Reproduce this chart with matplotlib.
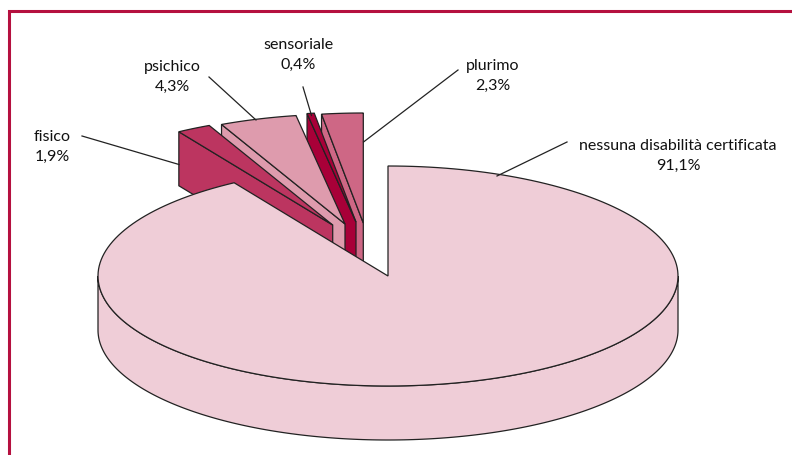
import numpy as np
import matplotlib
matplotlib.use("Agg")
import matplotlib.pyplot as plt
from matplotlib.patches import Polygon

labels = ["nessuna disabilità certificata", "fisico", "psichico", "sensoriale", "plurimo"]
values = [91.1, 1.9, 4.3, 0.4, 2.3]
value_text = ["91,1%", "1,9%", "4,3%", "0,4%", "2,3%"]
colors = ["#EFCDD7", "#BC3560", "#DE9BAD", "#A80038", "#CE6785"]

# layout, in picture pixels
cx, cy = 388, 277
rx, ry = 290, 110
depth = 54
shift = [(0, 0), (-55.3, -51), (-43, -52), (-32, -54), (-24.7, -53)]
text_pos = [(678, 156), (52, 147), (172, 77), (298, 55), (493, 76)]
leaders = [
    ((567, 143), (497, 177)),
    ((82, 137), (179, 165.5)),
    ((209, 78), (256, 121)),
    ((303, 88), (311.5, 116.5)),
    ((458, 71), (363.5, 143)),
]
edge = "#222222"


def arc(a0, a1, dx=0, dy=0):
    t = np.radians(np.linspace(a0, a1, 200))
    return np.column_stack([cx + dx + rx * np.sin(t), cy + dy - ry * np.cos(t)])


fig = plt.figure(figsize=(7.92, 4.56), dpi=100)
ax = fig.add_axes([0, 0, 1, 1])
ax.set_xlim(0, 792)
ax.set_ylim(456, 0)
ax.axis("off")

# clockwise from twelve o'clock
stops = np.cumsum([0] + values) / 100 * 360

# red frame, open on the right and at the bottom
ax.plot([8.5, 8.5, 792], [456, 11.5, 11.5], color="#B5103F", lw=2.2, solid_joinstyle="miter")

# small slices, back to front
for i in [4, 3, 2, 1]:
    dx, dy = shift[i]
    a0, a1 = stops[i], stops[i + 1]
    pts = arc(a0, a1, dx, dy)
    apex = [cx + dx, cy + dy]
    side = [apex, pts[0], pts[0] + [0, depth], [apex[0], apex[1] + depth]]
    ax.add_patch(Polygon(side, closed=True, fc=colors[i], ec=edge, lw=0.9))
    ax.add_patch(Polygon(np.vstack([[apex], pts]), closed=True, fc=colors[i], ec=edge, lw=0.9))

# big slice: rim then top
front = arc(90, 270)
rim = np.vstack([front, (front + [0, depth])[::-1]])
ax.add_patch(Polygon(rim, closed=True, fc=colors[0], ec=edge, lw=0.9))
top = np.vstack([[[cx, cy]], arc(stops[0], stops[1])])
ax.add_patch(Polygon(top, closed=True, fc=colors[0], ec=edge, lw=0.9))

for (p0, p1) in leaders:
    ax.plot([p0[0], p1[0]], [p0[1], p1[1]], color=edge, lw=0.9)

for lab, val, pos in zip(labels, value_text, text_pos):
    ax.text(pos[0], pos[1], lab + "\n" + val, ha="center", va="center",
            fontsize=11.5, family="Lato", color="#111111", linespacing=1.55)

fig.savefig("out.png", dpi=100)
